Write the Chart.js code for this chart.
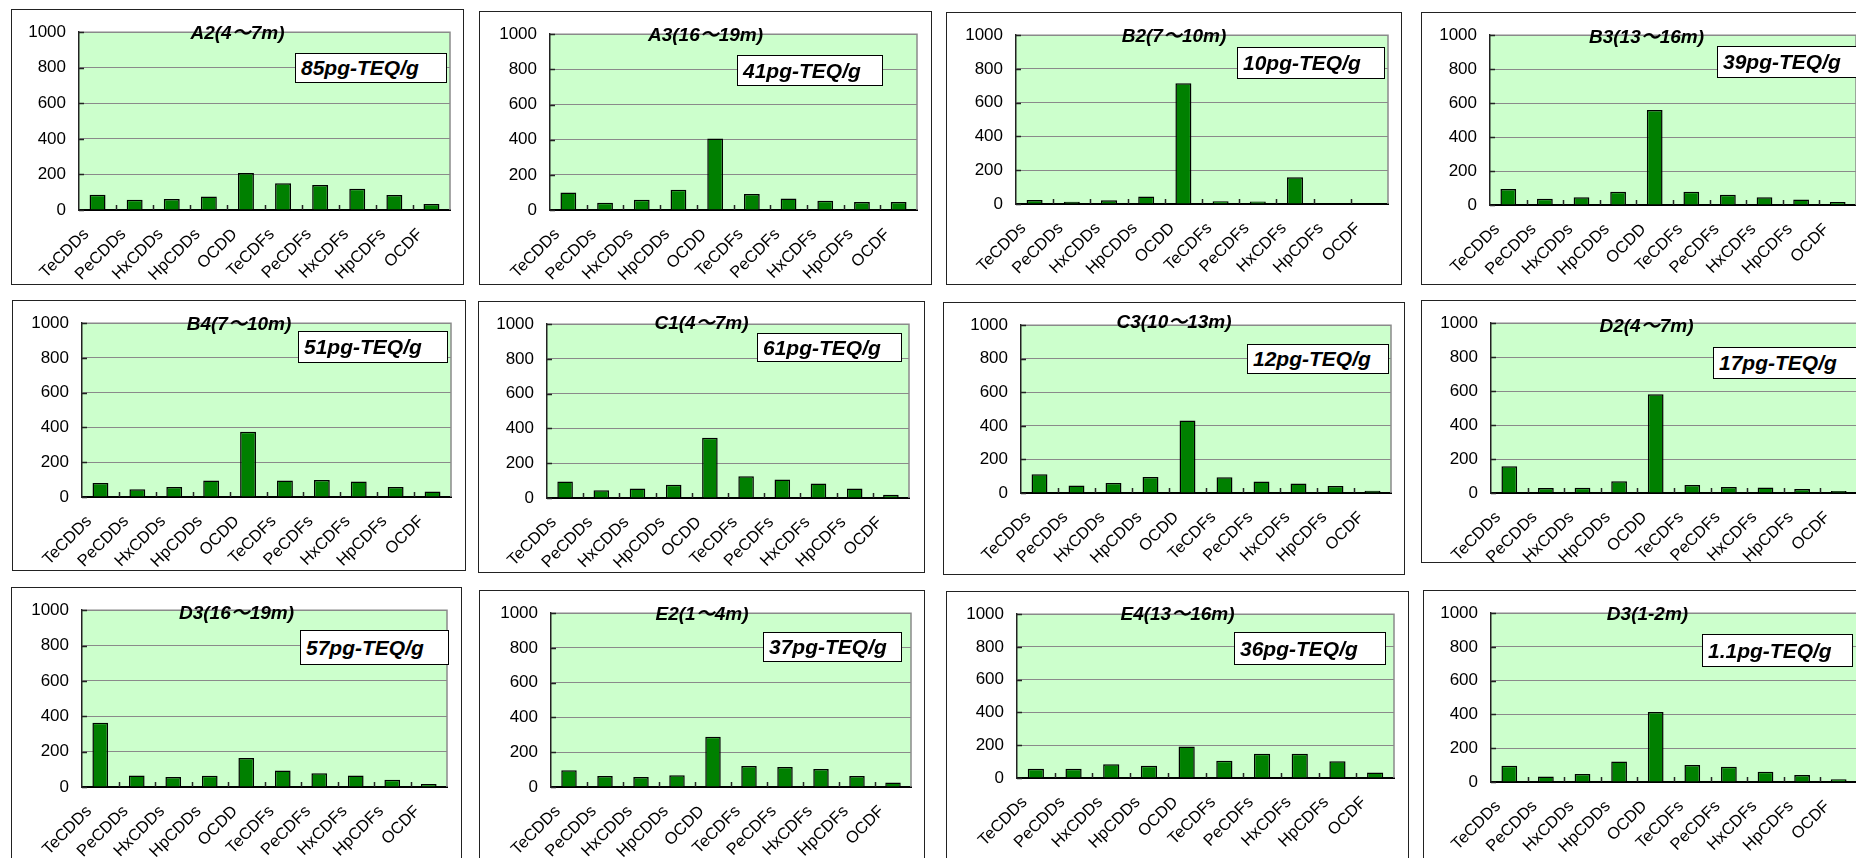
<!DOCTYPE html>
<html>
<head>
<meta charset="utf-8">
<script src="https://cdn.jsdelivr.net/npm/chart.js@4"></script>
<style>
  html, body { margin: 0; padding: 0; background: #fff; }
  #page { position: relative; width: 1856px; height: 858px; overflow: hidden; }
  .panel { position: absolute; box-sizing: border-box; border: 1.5px solid #222; background: #fff; }
  .panel canvas { position: absolute; left: 0; top: 0; }
  .title { position: absolute; transform: translate(-50%, -50%); white-space: nowrap;
           font: italic bold 19px 'Liberation Sans', 'Noto Sans CJK JP', sans-serif; color: #000; }
  .teq { position: absolute; box-sizing: border-box; border: 1.5px solid #000; background: #fff;
         font: italic bold 21px 'Liberation Sans', sans-serif; color: #000; padding-left: 5px;
         display: flex; align-items: center; white-space: nowrap; overflow: hidden; }
</style>
</head>
<body>
<div id="page"></div>
<script>
// categories and tick values
const categories = ['TeCDDs', 'PeCDDs', 'HxCDDs', 'HpCDDs', 'OCDD', 'TeCDFs', 'PeCDFs', 'HxCDFs', 'HpCDFs', 'OCDF'];
const yTicks = [0, 200, 400, 600, 800, 1000];

// panel titles and TEQ notes
const titles = ['A2(4～7m)', 'A3(16～19m)', 'B2(7～10m)', 'B3(13～16m)',
                'B4(7～10m)', 'C1(4～7m)', 'C3(10～13m)', 'D2(4～7m)',
                'D3(16～19m)', 'E2(1～4m)', 'E4(13～16m)', 'D3(1-2m)'];
const teqNotes = ['85pg-TEQ/g', '41pg-TEQ/g', '10pg-TEQ/g', '39pg-TEQ/g',
                  '51pg-TEQ/g', '61pg-TEQ/g', '12pg-TEQ/g', '17pg-TEQ/g',
                  '57pg-TEQ/g', '37pg-TEQ/g', '36pg-TEQ/g', '1.1pg-TEQ/g'];

// values per panel
const valuesA2 = [86, 57, 62, 76, 208, 151, 140, 119, 85, 34];
const valuesA3 = [99, 41, 59, 115, 407, 91, 66, 52, 45, 45];
const valuesB2 = [24, 13, 22, 45, 716, 17, 15, 158, 0, 0];
const valuesB3 = [94, 37, 46, 78, 559, 78, 61, 46, 33, 17];
const valuesB4 = [80, 45, 58, 95, 376, 95, 98, 89, 58, 31];
const valuesC1 = [95, 45, 55, 76, 347, 125, 107, 84, 55, 18];
const valuesC3 = [111, 45, 60, 96, 432, 94, 68, 56, 41, 13];
const valuesD2 = [157, 29, 31, 69, 582, 47, 35, 33, 24, 12];
const valuesD3deep = [364, 65, 56, 63, 164, 93, 78, 65, 41, 17];
const valuesE2 = [97, 64, 57, 68, 289, 121, 115, 103, 64, 26];
const valuesE4 = [56, 56, 84, 75, 193, 105, 148, 148, 102, 33];
const valuesD3shallow = [97, 32, 48, 122, 415, 101, 90, 61, 42, 17];

const seriesList = [valuesA2, valuesA3, valuesB2, valuesB3, valuesB4, valuesC1,
                    valuesC3, valuesD2, valuesD3deep, valuesE2, valuesE4, valuesD3shallow];

// layout: panel box, plot area, teq box, title centre y  (page pixels)
const layout = [
  { box: [11, 9, 464, 285],     plot: [79, 22, 450, 210],     teq: [295, 53, 447, 83],     ty: 29.5 },
  { box: [479, 11, 932, 285],   plot: [550, 24, 917, 210],    teq: [737, 55, 883, 86],     ty: 31.5 },
  { box: [946, 12, 1402, 285],  plot: [1016, 25, 1388, 204],  teq: [1237, 47, 1385, 79],   ty: 32.5 },
  { box: [1421, 12, 1872, 285], plot: [1490, 25, 1856, 205],  teq: [1717, 46, 1870, 78],   ty: 34 },
  { box: [12, 300, 466, 571],   plot: [82, 313, 451, 497],    teq: [298, 331, 448, 363],   ty: 320.5 },
  { box: [478, 301, 925, 573],  plot: [547, 314, 909, 498],   teq: [757, 333, 902, 362],   ty: 319.5 },
  { box: [943, 302, 1405, 575], plot: [1021, 316, 1391, 493], teq: [1247, 344, 1389, 374], ty: 318.5 },
  { box: [1421, 300, 1872, 563],plot: [1491, 323, 1857, 493], teq: [1713, 347, 1870, 379], ty: 322.5 },
  { box: [11, 587, 462, 874],   plot: [82, 608, 447, 787],    teq: [300, 630, 449, 665],   ty: 609.5 },
  { box: [479, 590, 925, 874],  plot: [551, 605, 911, 787],   teq: [763, 632, 902, 662],   ty: 610.5 },
  { box: [946, 591, 1409, 874], plot: [1017, 604, 1394, 778], teq: [1234, 632, 1386, 665], ty: 611 },
  { box: [1423, 590, 1872, 874],plot: [1491, 607, 1857, 782], teq: [1702, 634, 1853, 667], ty: 613.5 }
];

// plot background, grey frame, short inner tick marks and slanted category labels
const panelDecor = {
  id: 'panelDecor',
  beforeDraw(chart) {
    const a = chart.chartArea, ctx = chart.ctx;
    ctx.save();
    ctx.fillStyle = '#ccffcc';
    ctx.fillRect(a.left, a.top, a.right - a.left, a.bottom - a.top);
    ctx.restore();
  },
  afterDraw(chart) {
    const a = chart.chartArea, ctx = chart.ctx;
    const x = chart.scales.x, y = chart.scales.y;
    ctx.save();
    ctx.strokeStyle = '#8a8a8a';
    ctx.lineWidth = 1.5;
    ctx.beginPath();
    ctx.moveTo(a.left, a.top);
    ctx.lineTo(a.right, a.top);
    ctx.lineTo(a.right, a.bottom);
    ctx.stroke();
    ctx.strokeStyle = '#222';
    ctx.lineWidth = 1.5;
    ctx.beginPath();
    yTicks.forEach(v => {
      const py = Math.round(y.getPixelForValue(v)) + 0.5;
      ctx.moveTo(a.left, py);
      ctx.lineTo(a.left + 5, py);
    });
    for (let i = 0; i < categories.length - 1; i++) {
      const px = Math.round((x.getPixelForValue(i) + x.getPixelForValue(i + 1)) / 2) + 0.5;
      ctx.moveTo(px, a.bottom);
      ctx.lineTo(px, a.bottom - 5);
    }
    ctx.stroke();

    // category labels, rotated 45 degrees, right end just under each category
    ctx.fillStyle = '#000';
    ctx.font = "16.5px 'Liberation Sans', Arial, sans-serif";
    ctx.textAlign = 'right';
    ctx.textBaseline = 'alphabetic';
    categories.forEach((c, i) => {
      ctx.save();
      ctx.translate(x.getPixelForValue(i) - 8, a.bottom + 25);
      ctx.rotate(-Math.PI / 4);
      ctx.fillText(c, 0, 0);
      ctx.restore();
    });
    ctx.restore();
  }
};

const page = document.getElementById('page');

layout.forEach((p, i) => {
  const [bl, bt, br, bb] = p.box;
  const [pl, pt, pr, pb] = p.plot;
  const w = br - bl, h = bb - bt;

  const div = document.createElement('div');
  div.className = 'panel';
  div.style.left = bl + 'px';
  div.style.top = bt + 'px';
  div.style.width = w + 'px';
  div.style.height = h + 'px';
  page.appendChild(div);

  const canvas = document.createElement('canvas');
  canvas.width = w;
  canvas.height = h;
  canvas.style.left = '-1.5px';
  canvas.style.top = '-1.5px';
  div.appendChild(canvas);

  new Chart(canvas.getContext('2d'), {
    type: 'bar',
    data: {
      labels: categories,
      datasets: [{
        data: seriesList[i],
        backgroundColor: '#008000',
        borderColor: '#000',
        borderWidth: 1.5,
        borderSkipped: 'bottom',
        categoryPercentage: 1,
        barPercentage: 0.43
      }]
    },
    options: {
      responsive: false,
      animation: false,
      devicePixelRatio: 1,
      layout: { padding: { top: pt - bt, right: br - pr, left: 0, bottom: 0 } },
      plugins: { legend: { display: false }, tooltip: { enabled: false } },
      scales: {
        x: {
          grid: { display: false, drawTicks: false },
          border: { color: '#000', width: 2 },
          ticks: { display: false },
          afterFit(scale) { scale.height = bb - pb; }
        },
        y: {
          min: 0, max: 1000,
          grid: { color: '#8a8a8a', lineWidth: 1, drawTicks: false },
          border: { color: '#222', width: 1.5 },
          ticks: {
            stepSize: 200, color: '#000', padding: 13,
            font: { family: "'Liberation Sans', Arial, sans-serif", size: 17 },
            callback: v => String(v)
          },
          afterFit(scale) { scale.width = pl - bl; }
        }
      }
    },
    plugins: [panelDecor]
  });

  const t = document.createElement('div');
  t.className = 'title';
  t.textContent = titles[i];
  t.style.left = ((bl + br) / 2) + 'px';
  t.style.top = p.ty + 'px';
  page.appendChild(t);

  const [ql, qt, qr, qb] = p.teq;
  const q = document.createElement('div');
  q.className = 'teq';
  q.textContent = teqNotes[i];
  q.style.left = ql + 'px';
  q.style.top = qt + 'px';
  q.style.width = (qr - ql) + 'px';
  q.style.height = (qb - qt) + 'px';
  page.appendChild(q);
});
</script>
</body>
</html>
